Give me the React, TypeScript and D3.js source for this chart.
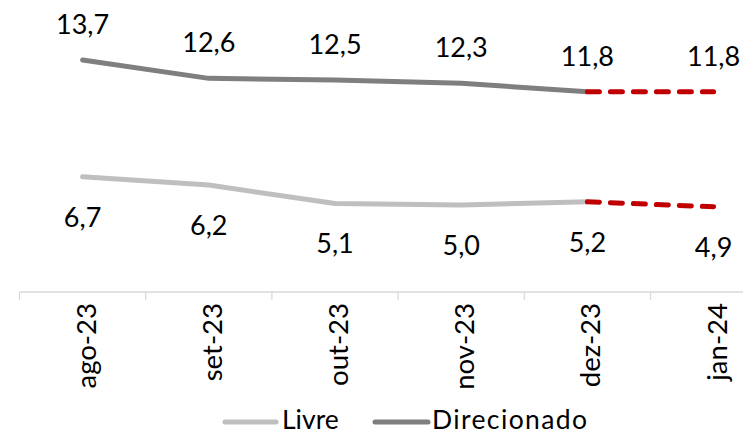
import React from "react";
import * as d3 from "d3";

const categories = ["ago-23", "set-23", "out-23", "nov-23", "dez-23", "jan-24"];
const livre = [6.7, 6.2, 5.1, 5.0, 5.2, 4.9];
const direcionado = [13.7, 12.6, 12.5, 12.3, 11.8, 11.8];
const seriesNames = ["Livre", "Direcionado"];
const seriesColors = ["#bfbfbf", "#7f7f7f"];
const projColor = "#c00000";

const W = 743;
const H = 434;
const FONT = "Lato, 'Open Sans', sans-serif";

const fmt = (v: number) => v.toFixed(1).replace(".", ",");

export default function App() {
  const x = d3.scaleBand<string>().domain(categories).range([19.5, 19.5 + 126.2 * 6]);
  const cx = (c: string) => (x(c) as number) + x.bandwidth() / 2;
  const y = d3.scaleLinear().domain([0, 14]).range([288.5, 55]);
  const axisY = 292;

  const n = categories.length;
  const lineGen = d3
    .line<[string, number]>()
    .x((d) => cx(d[0]))
    .y((d) => y(d[1]));
  const solidPath = (vals: number[]) =>
    lineGen(categories.slice(0, n - 1).map((c, i) => [c, vals[i]] as [string, number]));
  const dashPath = (vals: number[]) =>
    lineGen(categories.slice(n - 2).map((c, i) => [c, vals[n - 2 + i]] as [string, number]));

  const ticks = d3.range(n + 1).map((i) => 19.5 + x.step() * i);

  return (
    <svg
      width={W}
      height={H}
      style={{ position: "absolute", left: 0, top: 0, background: "#fff" }}
      fontFamily={FONT}
    >
      {/* axis */}
      <line x1={19.5} x2={W + 40} y1={axisY} y2={axisY} stroke="#d9d9d9" strokeWidth={1.3} />
      {ticks.map((t, i) => (
        <line key={i} x1={t} x2={t} y1={axisY} y2={axisY + 8} stroke="#d9d9d9" strokeWidth={1.3} />
      ))}
      {categories.map((c) => (
        <text
          key={c}
          transform={`translate(${cx(c) + 13},303) rotate(-90)`}
          textAnchor="end"
          fontSize={27.5}
          fill="#000"
        >
          {c}
        </text>
      ))}

      {/* lines */}
      {[livre, direcionado].map((vals, s) => (
        <g key={s}>
          <path
            d={solidPath(vals) || ""}
            fill="none"
            stroke={seriesColors[s]}
            strokeWidth={5}
            strokeLinecap="round"
            strokeLinejoin="round"
          />
          <path
            d={dashPath(vals) || ""}
            fill="none"
            stroke={projColor}
            strokeWidth={5}
            strokeLinecap="round"
            strokeDasharray="12 11"
          />
        </g>
      ))}

      {/* labels */}
      {direcionado.map((v, i) => (
        <text key={"d" + i} x={cx(categories[i])} y={y(v) - 26} textAnchor="middle" fontSize={27} fill="#000">
          {fmt(v)}
        </text>
      ))}
      {livre.map((v, i) => (
        <text key={"l" + i} x={cx(categories[i])} y={y(v) + 50} textAnchor="middle" fontSize={27} fill="#000">
          {fmt(v)}
        </text>
      ))}

      {/* legend */}
      <g>
        <line x1={225} x2={276} y1={422} y2={422} stroke={seriesColors[0]} strokeWidth={5} strokeLinecap="round" />
        <text x={282} y={429} fontSize={26.5} fill="#000">
          {seriesNames[0]}
        </text>
        <line x1={375} x2={428} y1={422} y2={422} stroke={seriesColors[1]} strokeWidth={5} strokeLinecap="round" />
        <text x={432} y={429} fontSize={26.5} fill="#000" textLength={155} lengthAdjust="spacing">
          {seriesNames[1]}
        </text>
      </g>
    </svg>
  );
}
